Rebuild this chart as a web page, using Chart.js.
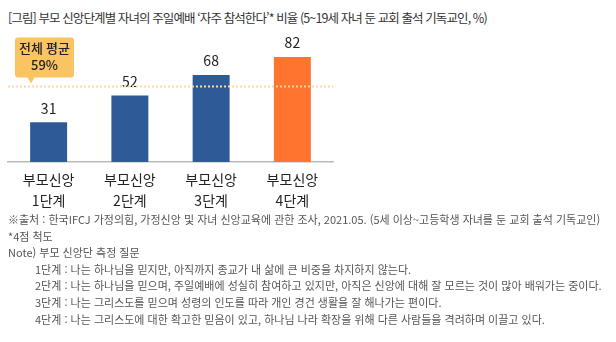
<!DOCTYPE html>
<html lang="ko">
<head>
<meta charset="utf-8">
<script src="https://cdn.jsdelivr.net/npm/chart.js@4/dist/chart.umd.min.js"></script>
<style>
  html, body { margin: 0; padding: 0; background: #fff; }
  #page { position: relative; width: 616px; height: 342px; overflow: hidden;
          font-family: "Noto Sans CJK KR", "Noto Sans", sans-serif; }
  #title { position: absolute; left: 8px; top: 8px; font-size: 12.5px; color: #333;
           letter-spacing: -0.9px; white-space: nowrap; }
  #chartBox { position: absolute; left: 0; top: 0; width: 345px; height: 240px; }
  #notes { position: absolute; left: 8px; top: 211px; font-size: 11px; color: #555;
           line-height: 16.6px; letter-spacing: 0; white-space: nowrap; }
  #notes .step { padding-left: 27px; }
</style>
</head>
<body>
<div id="page">
  <div id="title">[그림] 부모 신앙단계별 자녀의 주일예배 ‘자주 참석한다’* 비율 (5~19세 자녀 둔 교회 출석 기독교인, %)</div>
  <div id="chartBox"><canvas id="chart"></canvas></div>
  <div id="notes"></div>
</div>
<script>
// — data —
const categories = [['부모신앙', '1단계'], ['부모신앙', '2단계'], ['부모신앙', '3단계'], ['부모신앙', '4단계']];
const values     = [31, 52, 68, 82];
const barColors  = ['#2E5B97', '#2E5B97', '#2E5B97', '#FF7530'];
const average    = 59;
const avgLabel   = ['전체 평균', '59%'];
const notes = [
  '※출처 : 한국IFCJ 가정의힘, 가정신앙 및 자녀 신앙교육에 관한 조사, 2021.05. (5세 이상~고등학생 자녀를 둔 교회 출석 기독교인)',
  '*4점 척도',
  'Note) 부모 신앙단 측정 질문'
];
const steps = [
  '1단계 : 나는 하나님을 믿지만, 아직까지 종교가 내 삶에 큰 비중을 차지하지 않는다.',
  '2단계 : 나는 하나님을 믿으며, 주일예배에 성실히 참여하고 있지만, 아직은 신앙에 대해 잘 모르는 것이 많아 배워가는 중이다.',
  '3단계 : 나는 그리스도를 믿으며 성령의 인도를 따라 개인 경건 생활을 잘 해나가는 편이다.',
  '4단계 : 나는 그리스도에 대한 확고한 믿음이 있고, 하나님 나라 확장을 위해 다른 사람들을 격려하며 이끌고 있다.'
];

// — footnotes —
const notesEl = document.getElementById('notes');
notes.forEach(t => {
  const d = document.createElement('div');
  d.textContent = t;
  notesEl.appendChild(d);
});
steps.forEach(t => {
  const d = document.createElement('div');
  d.className = 'step';
  d.textContent = t;
  notesEl.appendChild(d);
});

const FONT = '"Noto Sans CJK KR", "Noto Sans", sans-serif';

// 평균선 + 말풍선
const averagePlugin = {
  id: 'averageLine',
  afterDatasetsDraw(chart) {
    const { ctx, chartArea, scales } = chart;
    const y = scales.y.getPixelForValue(average);
    ctx.save();
    ctx.strokeStyle = '#FFD79C';
    ctx.lineWidth = 2;
    ctx.setLineDash([2, 2]);
    ctx.beginPath();
    ctx.moveTo(chartArea.left, y);
    ctx.lineTo(chartArea.right, y);
    ctx.stroke();
    ctx.setLineDash([]);

    // callout
    const bx = 15, bw = 59, bh = 40, by = y - 49;
    const tipX = 31;
    ctx.fillStyle = '#FAC462';
    ctx.beginPath();
    ctx.roundRect(bx, by, bw, bh, 3);
    ctx.fill();
    ctx.beginPath();
    ctx.moveTo(tipX - 4, by + bh - 1);
    ctx.lineTo(tipX + 4, by + bh - 1);
    ctx.lineTo(tipX, by + bh + 6);
    ctx.closePath();
    ctx.fill();
    ctx.fillStyle = '#222';
    ctx.textAlign = 'center';
    ctx.textBaseline = 'middle';
    ctx.font = '500 13px ' + FONT;
    ctx.fillText(avgLabel[0], bx + bw / 2, by + 11);
    ctx.fillText(avgLabel[1], bx + bw / 2, by + 28);
    ctx.restore();
  }
};

// 값 라벨
const valueLabels = {
  id: 'valueLabels',
  afterDatasetsDraw(chart) {
    const { ctx } = chart;
    const meta = chart.getDatasetMeta(0);
    ctx.save();
    ctx.fillStyle = '#222';
    ctx.font = '14px ' + FONT;
    ctx.textAlign = 'center';
    ctx.textBaseline = 'middle';
    meta.data.forEach((bar, i) => {
      ctx.fillText(values[i], bar.x, bar.y - 14);
    });
    ctx.restore();
  }
};

new Chart(document.getElementById('chart'), {
  type: 'bar',
  data: {
    labels: categories,
    datasets: [{
      data: values,
      backgroundColor: barColors,
      borderWidth: 0,
      barPercentage: 1,
      categoryPercentage: 0.455
    }]
  },
  options: {
    responsive: true,
    maintainAspectRatio: false,
    animation: false,
    layout: { padding: { top: 34, left: 8, right: 12, bottom: 28 } },
    scales: {
      x: {
        grid: { display: false, drawTicks: false },
        border: { color: '#BBBBBB', width: 1.5 },
        ticks: { color: '#222', font: { family: FONT, size: 14, lineHeight: 1.5 }, padding: 7 },
        afterFit(scale) { scale.height = 50; }
      },
      y: { display: false, min: 0, max: 100 }
    },
    plugins: {
      legend: { display: false },
      tooltip: { enabled: false }
    }
  },
  plugins: [valueLabels, averagePlugin]
});
</script>
</body>
</html>
